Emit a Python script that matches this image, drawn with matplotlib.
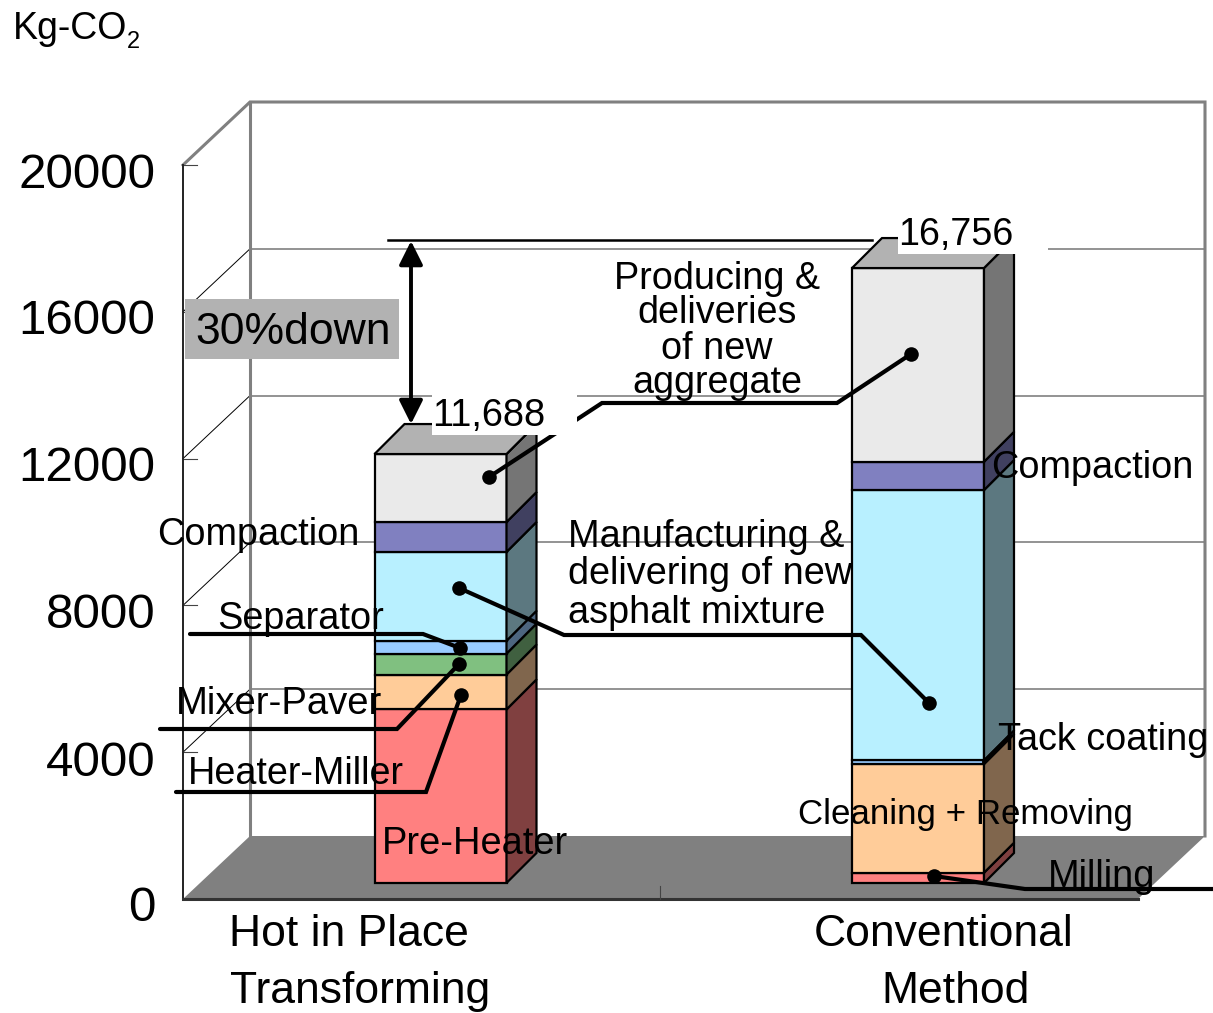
import matplotlib

matplotlib.use("Agg", force=True)

import matplotlib.pyplot as plt
from matplotlib.patches import Polygon, Rectangle

plt.rcParams["font.family"] = ["Liberation Sans", "DejaVu Sans"]

AXIS_TICKS = [0, 4000, 8000, 12000, 16000, 20000]
CATEGORY_LINES = [["Hot in Place", "Transforming"], ["Conventional", "Method"]]
TOTAL_LABELS = ["11,688", "16,756"]

HIP_VALUES = [4730, 950, 570, 350, 2420, 815, 1853]
HIP_COLORS = ["#FF8080", "#FFCC99", "#80C080", "#99CCFF", "#B8F0FF", "#8080C0", "#EAEAEA"]
CONV_VALUES = [280, 2960, 100, 7366, 771, 5279]
CONV_COLORS = ["#FF8080", "#FFCC99", "#99CCFF", "#B8F0FF", "#8080C0", "#EAEAEA"]

# layout of the fake 3D box, in pixels
PX_PER_UNIT = 734 / 20000
FRONT_LEFT, FRONT_BASE, FRONT_RIGHT = 183, 899, 1138
BACK_DX, BACK_DY = 67, -63
BAR_BASE = 883
BAR_DEPTH = 30
GRID_GRAY = "#808080"
LEADER_LW = 3.0
DOT_SIZE = 110
BAR_EDGE_LW = 1.6


def val_y(value, base=FRONT_BASE):
    return base - value * PX_PER_UNIT


def darker(color):
    rgb = matplotlib.colors.to_rgb(color)
    return tuple(c * 0.5 for c in rgb)


def draw_box(ax):
    back_left = FRONT_LEFT + BACK_DX
    back_right = FRONT_RIGHT + BACK_DX
    back_base = FRONT_BASE + BACK_DY
    for tick in AXIS_TICKS[1:-1]:
        y_back = val_y(tick, back_base)
        y_front = val_y(tick)
        ax.plot([back_left, back_right], [y_back, y_back], color=GRID_GRAY, lw=1.2, zorder=1)
        ax.plot([FRONT_LEFT, back_left], [y_front, y_back], color="black", lw=0.7, zorder=1)
        ax.plot([FRONT_LEFT, FRONT_LEFT + 14], [y_front, y_front], color="#444444", lw=0.8, zorder=1)

    y_top_back = val_y(20000, back_base)
    y_top_front = val_y(20000)
    ax.plot([FRONT_LEFT, back_left, back_right, back_right],
            [y_top_front, y_top_back, y_top_back, back_base],
            color=GRID_GRAY, lw=2.2, zorder=1, solid_joinstyle="miter")
    ax.plot([back_left, back_left], [y_top_back, back_base], color=GRID_GRAY, lw=2.2, zorder=1)
    ax.plot([FRONT_LEFT, FRONT_LEFT + 14], [y_top_front, y_top_front], color="#444444", lw=0.8, zorder=1)

    floor = [(FRONT_LEFT, FRONT_BASE), (back_left, back_base), (back_right, back_base), (FRONT_RIGHT, FRONT_BASE)]
    ax.add_patch(Polygon(floor, closed=True, facecolor=GRID_GRAY, edgecolor="none", zorder=2))
    ax.plot([FRONT_LEFT, FRONT_LEFT], [y_top_front, FRONT_BASE], color="#222222", lw=1.4, zorder=3)
    ax.plot([FRONT_LEFT, FRONT_RIGHT], [FRONT_BASE, FRONT_BASE], color="#333333", lw=2.2, zorder=3)
    ax.plot([660, 660], [FRONT_BASE - 13, FRONT_BASE], color="#444444", lw=0.8, zorder=3)


def draw_stack(ax, left, width, values, colors):
    right = left + width
    bottom = 0
    for value, color in zip(values, colors):
        y0 = val_y(bottom, BAR_BASE)
        y1 = val_y(bottom + value, BAR_BASE)
        ax.add_patch(Rectangle((left, y1), width, y0 - y1, facecolor=color, edgecolor="black", lw=BAR_EDGE_LW, zorder=4))
        side = [(right, y0), (right + BAR_DEPTH, y0 - BAR_DEPTH), (right + BAR_DEPTH, y1 - BAR_DEPTH), (right, y1)]
        ax.add_patch(Polygon(side, closed=True, facecolor=darker(color), edgecolor="black", lw=BAR_EDGE_LW, zorder=4))
        bottom += value
    y_top = val_y(bottom, BAR_BASE)
    top = [(left, y_top), (left + BAR_DEPTH, y_top - BAR_DEPTH), (right + BAR_DEPTH, y_top - BAR_DEPTH), (right, y_top)]
    ax.add_patch(Polygon(top, closed=True, facecolor="#B2B2B2", edgecolor="black", lw=BAR_EDGE_LW, zorder=4))


def leader(ax, points, dot=True):
    xs = [p[0] for p in points]
    ys = [p[1] for p in points]
    ax.plot(xs, ys, color="black", lw=LEADER_LW, zorder=6, solid_joinstyle="miter", solid_capstyle="round")
    if dot:
        ax.scatter(xs[-1], ys[-1], s=DOT_SIZE, color="black", linewidths=0, zorder=7)


fig = plt.figure(figsize=(12.13, 10.13), dpi=100)
ax = fig.add_axes([0, 0, 1, 1])
ax.set_xlim(0, 1213)
ax.set_ylim(1013, 0)
ax.axis("off")

draw_box(ax)
draw_stack(ax, 374.5, 132, HIP_VALUES, HIP_COLORS)
draw_stack(ax, 852, 132, CONV_VALUES, CONV_COLORS)

# aggregate leader runs between both bars, the total label boxes sit on top of it
ax.plot([489, 602, 837, 911], [477, 403, 403, 354], color="black", lw=LEADER_LW, zorder=5, solid_joinstyle="miter")
ax.scatter([489, 911], [477, 354], s=DOT_SIZE, color="black", linewidths=0, zorder=7)
ax.add_patch(Rectangle((432, 385), 145, 50, facecolor="white", edgecolor="none", zorder=5.5))
ax.add_patch(Rectangle((898, 205), 150, 49, facecolor="white", edgecolor="none", zorder=5.5))

ax.plot([459, 564, 861, 929], [588, 635, 635, 703], color="black", lw=LEADER_LW, zorder=6, solid_joinstyle="miter")
ax.scatter([459, 929], [588, 703], s=DOT_SIZE, color="black", linewidths=0, zorder=7)
leader(ax, [(190, 634), (423, 634), (460, 648)])
leader(ax, [(160, 729), (397, 729), (459, 664)])
leader(ax, [(176, 792), (426, 792), (461, 695)])
leader(ax, [(1213, 889), (1025, 889), (934, 876)])
leader(ax, [(984, 762), (1010, 736)], dot=False)

# 30% reduction marker
ax.plot([388, 872], [240, 240], color="black", lw=1.8, zorder=6)
ax.annotate("", xy=(411, 241), xytext=(411, 424), zorder=6,
            arrowprops=dict(arrowstyle="<|-|>,head_length=0.72,head_width=0.36", color="black", lw=2.8,
                            shrinkA=0, shrinkB=0, mutation_scale=20))
ax.add_patch(Rectangle((185, 299), 214, 60, facecolor="#B2B2B2", edgecolor="none", zorder=6))
ax.text(195, 344, "30%down", fontsize=32, zorder=8)

# value axis
tick_baselines = [921, 776, 628, 481, 334, 188]
for tick, y in zip(AXIS_TICKS, tick_baselines):
    ax.text(155.5, y, str(tick), fontsize=35.6, ha="right", zorder=8)

ax.text(13, 39, "Kg-CO", fontsize=27, zorder=8)
ax.text(127, 48, "2", fontsize=17, zorder=8)

ax.text(229, 946, CATEGORY_LINES[0][0], fontsize=32, zorder=8)
ax.text(230, 1003, CATEGORY_LINES[0][1], fontsize=32, zorder=8)
ax.text(814, 946, CATEGORY_LINES[1][0], fontsize=32, zorder=8)
ax.text(881, 1003, CATEGORY_LINES[1][1], fontsize=32, zorder=8)

ax.text(432, 426, TOTAL_LABELS[0], fontsize=27.4, zorder=8)
ax.text(898, 245, TOTAL_LABELS[1], fontsize=27.2, zorder=8)

for line, y in zip(["Producing &", "deliveries", "of new", "aggregate"], [289, 323, 359, 393]):
    ax.text(717, y, line, fontsize=27.2, ha="center", zorder=8)
for line, y in zip(["Manufacturing &", "delivering of new", "asphalt mixture"], [547, 584, 623]):
    ax.text(568, y, line, fontsize=27.3, zorder=8)

ax.text(157, 545, "Compaction", fontsize=27.3, zorder=8)
ax.text(217, 629, "Separator", fontsize=27.3, zorder=8)
ax.text(176, 714, "Mixer-Paver", fontsize=27.5, zorder=8)
ax.text(188, 784, "Heater-Miller", fontsize=27.2, zorder=8)
ax.text(382, 854, "Pre-Heater", fontsize=27.4, zorder=8)
ax.text(991, 478, "Compaction", fontsize=27.3, zorder=8)
ax.text(998, 750, "Tack coating", fontsize=27.2, zorder=8)
ax.text(798, 824, "Cleaning + Removing", fontsize=25.1, zorder=8)
ax.text(1048, 887, "Milling", fontsize=27.4, zorder=8)

fig.savefig("out.png", dpi=100)
plt.close(fig)
